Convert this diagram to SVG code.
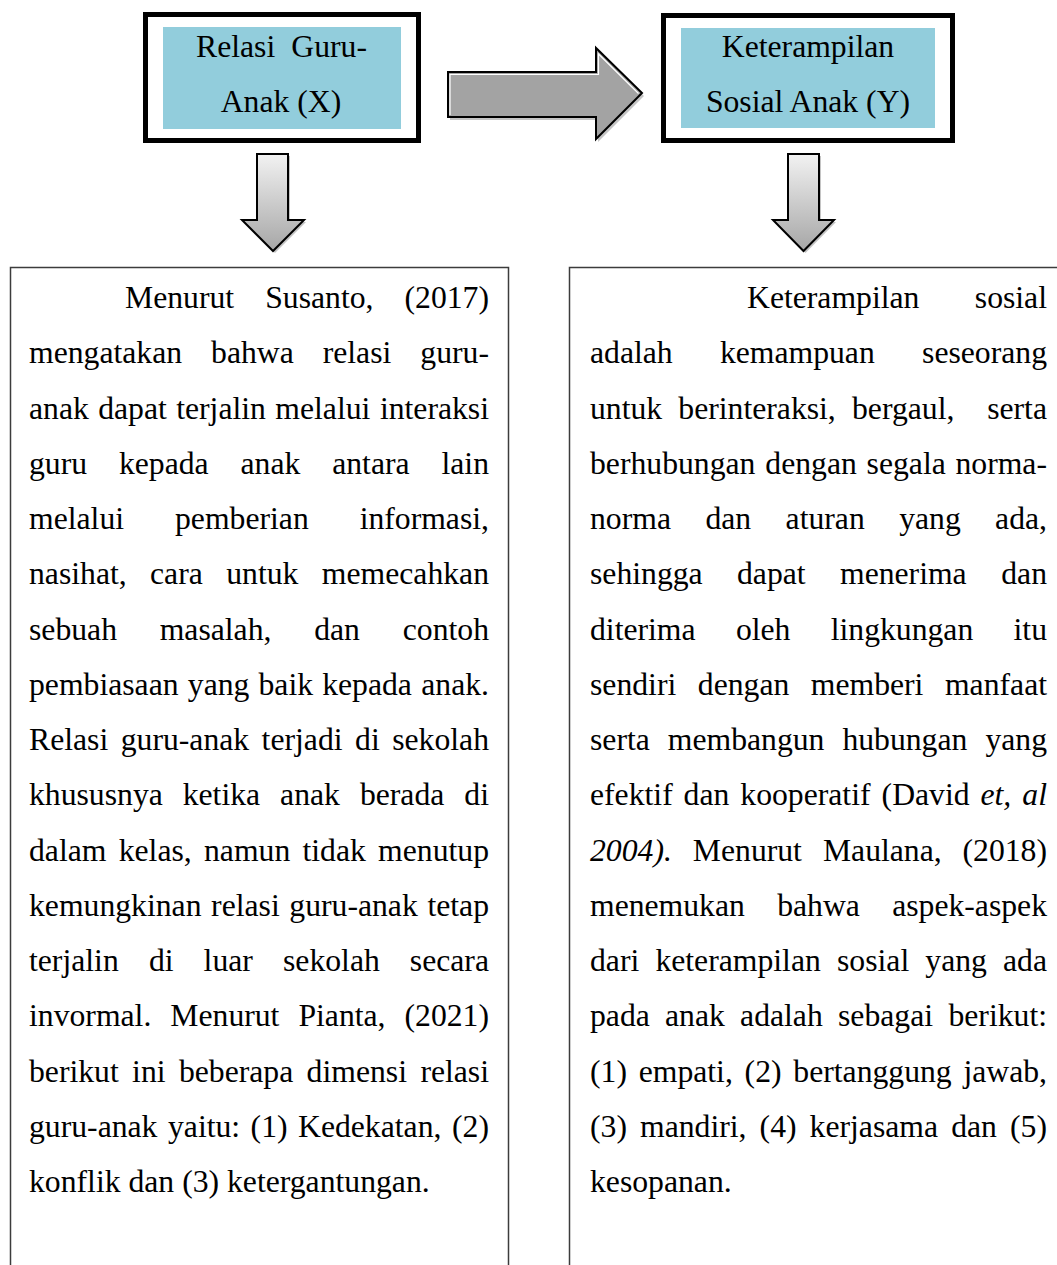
<svg xmlns="http://www.w3.org/2000/svg" width="1057" height="1265" viewBox="0 0 1057 1265">
<style>
.t{font-family:"Liberation Serif","Times New Roman",serif;font-size:31.7px;fill:#000}
.i{font-style:italic}
.e{text-anchor:end}
.m{text-anchor:middle}
.outer{fill:#fff;stroke:#000;stroke-width:5}
.inner{fill:#92CDDC}
.tb{fill:none;stroke:#3c3c3c;stroke-width:1.5}
.shadow{fill:#c4c4c4}
.arr{stroke:#000;stroke-width:2;stroke-linejoin:miter}
.hl{fill:none;stroke:#fff;stroke-width:1.2}
</style>
<defs>
<linearGradient id="gd" x1="0" y1="0" x2="0" y2="1">
<stop offset="0" stop-color="#f2f2f2"/>
<stop offset="1" stop-color="#a6a6a6"/>
</linearGradient>
</defs>
<rect width="1057" height="1265" fill="#fff"/>

<g id="connectors">
<g id="arrow-x-y">
<polygon class="shadow" points="450,75 598,75 598,51 644,96 598,142 598,120 450,120"/>
<polygon class="arr" fill="#a3a3a3" points="448,72 596,72 596,48 642,93 596,139 596,117 448,117"/>
<polyline class="hl" points="450,115 450,74.5 598.5,74.5 598.5,54 638.5,93.5"/>
</g>
<g id="arrow-x-down">
<polygon class="shadow" points="259,156 290,156 290,222 306,222 275,253 244,222 259,222"/>
<polygon class="arr" fill="url(#gd)" points="257,154 288,154 288,220 304,220 273,251 242,220 257,220"/>
</g>
<g id="arrow-y-down">
<polygon class="shadow" points="790,156 821,156 821,222 836,222 805.5,253 775,222 790,222"/>
<polygon class="arr" fill="url(#gd)" points="788,154 819,154 819,220 834,220 803.5,251 773,220 788,220"/>
</g>
</g>

<g id="node-x">
<rect class="outer" x="145.5" y="14.5" width="273" height="126"/>
<rect class="inner" x="163" y="27" width="238" height="102"/>
<text class="t" y="57"><tspan x="196">Relasi</tspan><tspan class="e" x="367">Guru-</tspan></text>
<text class="t m" x="281" y="112">Anak (X)</text>
</g>

<g id="node-y">
<rect class="outer" x="663.5" y="15.5" width="289" height="125"/>
<rect class="inner" x="681" y="28" width="254" height="100"/>
<text class="t m" x="808" y="57">Keterampilan</text>
<text class="t m" x="808" y="112">Sosial Anak (Y)</text>
</g>

<g id="node-text-x">
<path class="tb" d="M10.5,1266 V267.5 H508.5 V1266"/>
<text class="t" y="308"><tspan x="125">Menurut</tspan><tspan x="265.2">Susanto,</tspan><tspan class="e" x="489">(2017)</tspan></text>
<text class="t" y="363.25"><tspan x="29">mengatakan</tspan><tspan x="211.1">bahwa</tspan><tspan x="322.7">relasi</tspan><tspan class="e" x="489">guru-</tspan></text>
<text class="t" y="418.5"><tspan x="29">anak</tspan><tspan x="98.2">dapat</tspan><tspan x="176.2">terjalin</tspan><tspan x="275.3">melalui</tspan><tspan class="e" x="489">interaksi</tspan></text>
<text class="t" y="473.75"><tspan x="29">guru</tspan><tspan x="118.9">kepada</tspan><tspan x="240.5">anak</tspan><tspan x="332.2">antara</tspan><tspan class="e" x="489">lain</tspan></text>
<text class="t" y="529"><tspan x="29">melalui</tspan><tspan x="175">pemberian</tspan><tspan class="e" x="489">informasi,</tspan></text>
<text class="t" y="584.25"><tspan x="29">nasihat,</tspan><tspan x="150">cara</tspan><tspan x="226.2">untuk</tspan><tspan class="e" x="489">memecahkan</tspan></text>
<text class="t" y="639.5"><tspan x="29">sebuah</tspan><tspan x="159.7">masalah,</tspan><tspan x="314.2">dan</tspan><tspan class="e" x="489">contoh</tspan></text>
<text class="t" y="694.75"><tspan x="29">pembiasaan</tspan><tspan x="187.8">yang</tspan><tspan x="258.5">baik</tspan><tspan x="322.2">kepada</tspan><tspan class="e" x="489">anak.</tspan></text>
<text class="t" y="750"><tspan x="29">Relasi</tspan><tspan x="120.7">guru-anak</tspan><tspan x="261.6">terjadi</tspan><tspan x="355.1">di</tspan><tspan class="e" x="489">sekolah</tspan></text>
<text class="t" y="805.25"><tspan x="29">khususnya</tspan><tspan x="182.7">ketika</tspan><tspan x="280.1">anak</tspan><tspan x="359.9">berada</tspan><tspan class="e" x="489">di</tspan></text>
<text class="t" y="860.5"><tspan x="29">dalam</tspan><tspan x="118.7">kelas,</tspan><tspan x="204">namun</tspan><tspan x="302.5">tidak</tspan><tspan class="e" x="489">menutup</tspan></text>
<text class="t" y="915.75"><tspan x="29">kemungkinan</tspan><tspan x="211.1">relasi</tspan><tspan x="289.3">guru-anak</tspan><tspan class="e" x="489">tetap</tspan></text>
<text class="t" y="971"><tspan x="29">terjalin</tspan><tspan x="148.9">di</tspan><tspan x="203.6">luar</tspan><tspan x="283">sekolah</tspan><tspan class="e" x="489">secara</tspan></text>
<text class="t" y="1026.25"><tspan x="29">invormal.</tspan><tspan x="170.3">Menurut</tspan><tspan x="298.4">Pianta,</tspan><tspan class="e" x="489">(2021)</tspan></text>
<text class="t" y="1081.5"><tspan x="29">berikut</tspan><tspan x="132.1">ini</tspan><tspan x="178.9">beberapa</tspan><tspan x="306.6">dimensi</tspan><tspan class="e" x="489">relasi</tspan></text>
<text class="t" y="1136.75"><tspan x="29">guru-anak</tspan><tspan x="168">yaitu:</tspan><tspan x="250.6">(1)</tspan><tspan x="298">Kedekatan,</tspan><tspan class="e" x="489">(2)</tspan></text>
<text class="t" x="29" y="1192">konflik dan (3) ketergantungan.</text>
</g>

<g id="node-text-y">
<path class="tb" d="M569.5,1266 V267.5 H1058"/>
<text class="t" y="308"><tspan x="747">Keterampilan</tspan><tspan class="e" x="1047">sosial</tspan></text>
<text class="t" y="363.25"><tspan x="590">adalah</tspan><tspan x="719.9">kemampuan</tspan><tspan class="e" x="1047">seseorang</tspan></text>
<text class="t" y="418.5"><tspan x="590">untuk</tspan><tspan x="678.3">berinteraksi,</tspan><tspan x="852">bergaul,</tspan><tspan class="e" x="1047">serta</tspan></text>
<text class="t" y="473.75"><tspan x="590">berhubungan</tspan><tspan x="765.3">dengan</tspan><tspan x="866.6">segala</tspan><tspan class="e" x="1047">norma-</tspan></text>
<text class="t" y="529"><tspan x="590">norma</tspan><tspan x="705.4">dan</tspan><tspan x="785.6">aturan</tspan><tspan x="899.2">yang</tspan><tspan class="e" x="1047">ada,</tspan></text>
<text class="t" y="584.25"><tspan x="590">sehingga</tspan><tspan x="737">dapat</tspan><tspan x="840">menerima</tspan><tspan class="e" x="1047">dan</tspan></text>
<text class="t" y="639.5"><tspan x="590">diterima</tspan><tspan x="735.9">oleh</tspan><tspan x="830.7">lingkungan</tspan><tspan class="e" x="1047">itu</tspan></text>
<text class="t" y="694.75"><tspan x="590">sendiri</tspan><tspan x="697.8">dengan</tspan><tspan x="810.8">memberi</tspan><tspan class="e" x="1047">manfaat</tspan></text>
<text class="t" y="750"><tspan x="590">serta</tspan><tspan x="667.8">membangun</tspan><tspan x="842.4">hubungan</tspan><tspan class="e" x="1047">yang</tspan></text>
<text class="t" y="805.25"><tspan x="590">efektif</tspan><tspan x="683.6">dan</tspan><tspan x="740.3">kooperatif</tspan><tspan x="881.6">(David</tspan><tspan class="i" x="980.5">et,</tspan><tspan class="i e" x="1047">al</tspan></text>
<text class="t" y="860.5"><tspan class="i" x="590">2004).</tspan><tspan x="692.8">Menurut</tspan><tspan x="822.9">Maulana,</tspan><tspan class="e" x="1047">(2018)</tspan></text>
<text class="t" y="915.75"><tspan x="590">menemukan</tspan><tspan x="777.2">bahwa</tspan><tspan class="e" x="1047">aspek-aspek</tspan></text>
<text class="t" y="971"><tspan x="590">dari</tspan><tspan x="655.4">keterampilan</tspan><tspan x="837">sosial</tspan><tspan x="925.3">yang</tspan><tspan class="e" x="1047">ada</tspan></text>
<text class="t" y="1026.25"><tspan x="590">pada</tspan><tspan x="665">anak</tspan><tspan x="740.1">adalah</tspan><tspan x="838">sebagai</tspan><tspan class="e" x="1047">berikut:</tspan></text>
<text class="t" y="1081.5"><tspan x="590">(1)</tspan><tspan x="638.7">empati,</tspan><tspan x="744.6">(2)</tspan><tspan x="793.3">bertanggung</tspan><tspan class="e" x="1047">jawab,</tspan></text>
<text class="t" y="1136.75"><tspan x="590">(3)</tspan><tspan x="640">mandiri,</tspan><tspan x="759.6">(4)</tspan><tspan x="809.6">kerjasama</tspan><tspan x="951.2">dan</tspan><tspan class="e" x="1047">(5)</tspan></text>
<text class="t" x="590" y="1192">kesopanan.</text>
</g>
</svg>
